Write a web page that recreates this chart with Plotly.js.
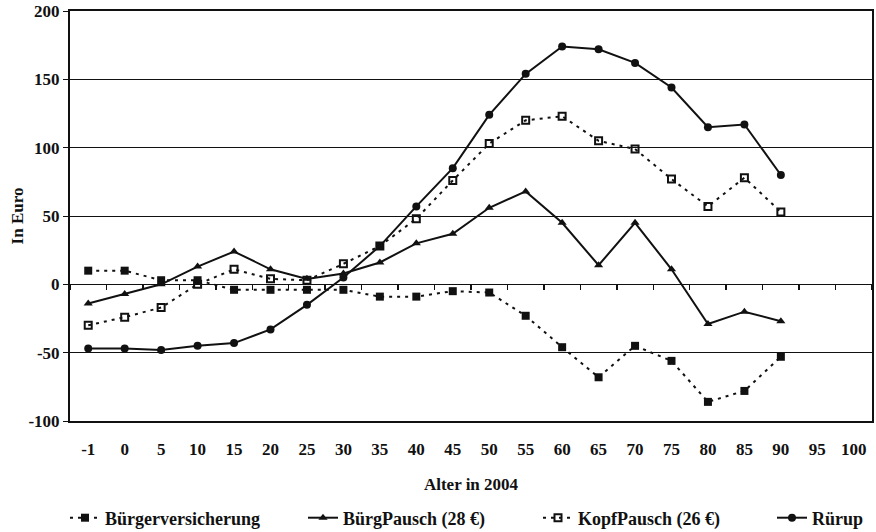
<!DOCTYPE html>
<html>
<head>
<meta charset="utf-8">
<script src="https://cdn.plot.ly/plotly-3.0.1.min.js"></script>
<style>html,body{margin:0;padding:0;background:#fff}#chart{width:876px;height:532px}</style>
</head>
<body>
<div id="chart"></div>
<script>
const categories = ['-1','0','5','10','15','20','25','30','35','40','45','50','55','60','65','70','75','80','85','90','95','100'];
const alterWithData = ['-1','0','5','10','15','20','25','30','35','40','45','50','55','60','65','70','75','80','85','90'];
const buergerversicherung = [10,10,3,3,-4,-4,-4,-4,-9,-9,-5,-6,-23,-46,-68,-45,-56,-86,-78,-53];
const buergPausch = [-14,-7,0,13,24,11,4,8,16,30,37,56,68,45,14,45,11,-29,-20,-27];
const kopfPausch = [-30,-24,-17,0,11,4,3,15,28,48,76,103,120,123,105,99,77,57,78,53];
const ruerup = [-47,-47,-48,-45,-43,-33,-15,5,28,57,85,124,154,174,172,162,144,115,117,80];
const yTicks = [-100,-50,0,50,100,150,200];

const serif = 'Liberation Serif';
const ink = '#111';

const traces = [
  {name:'Bürgerversicherung', x:alterWithData, y:buergerversicherung, mode:'lines+markers', type:'scatter',
   line:{color:ink, width:2, dash:'3px,5px'}, marker:{symbol:'square', size:8, color:ink}, legend:'legend'},
  {name:'BürgPausch (28 €)', x:alterWithData, y:buergPausch, mode:'lines+markers', type:'scatter',
   line:{color:ink, width:2}, marker:{symbol:'triangle-up', size:8, color:ink}, legend:'legend2'},
  {name:'KopfPausch (26 €)', x:alterWithData, y:kopfPausch, mode:'lines+markers', type:'scatter',
   line:{color:ink, width:2, dash:'3px,5px'}, marker:{symbol:'square-open', size:7, color:ink, line:{width:2, color:ink}}, legend:'legend3'},
  {name:'Rürup', x:alterWithData, y:ruerup, xaxis:'x2', mode:'lines+markers', type:'scatter',
   line:{color:ink, width:2}, marker:{symbol:'circle', size:8, color:ink}, legend:'legend4'}
];

const legendFont = {family:serif, size:18, weight:'bold', color:ink};
function leg(px){
  return {x:(px-70)/802, xref:'paper', y:(421-518)/410, yref:'paper', yanchor:'middle', xanchor:'left',
          orientation:'h', font:legendFont, bgcolor:'rgba(0,0,0,0)', borderwidth:0};
}

const layout = {
  width:876, height:532,
  margin:{l:70, r:4, t:11, b:111, autoexpand:false},
  paper_bgcolor:'#fff', plot_bgcolor:'#fff',
  font:{family:serif, color:ink},
  xaxis:{
    type:'category', categoryorder:'array', categoryarray:categories,
    tickvals:categories, ticktext:categories, tickangle:0,
    range:[-0.5, 21.5], showgrid:false, zeroline:false,
    showline:true, mirror:true, linecolor:ink, linewidth:2,
    ticks:'', ticklabelstandoff:12,
    tickfont:{family:serif, size:17, weight:'bold', color:ink},
    title:{text:'Alter in 2004', font:{family:serif, size:17, weight:'bold', color:ink}, standoff:20}
  },
  xaxis2:{
    overlaying:'x', anchor:'free', position:1/3, side:'bottom',
    type:'category', categoryorder:'array', categoryarray:categories,
    range:[-0.5, 21.5], tickson:'boundaries',
    ticks:'outside', ticklen:5, tickwidth:1.5, tickcolor:ink,
    showticklabels:false, showgrid:false, zeroline:false, showline:false
  },
  yaxis:{
    range:[-100, 200], tickvals:yTicks, ticktext:yTicks.map(String),
    showgrid:true, gridcolor:ink, gridwidth:1,
    zeroline:true, zerolinecolor:ink, zerolinewidth:1.5,
    showline:true, mirror:true, linecolor:ink, linewidth:2,
    ticks:'outside', ticklen:5, tickcolor:ink, tickwidth:1,
    tickfont:{family:serif, size:17, weight:'bold', color:ink},
    title:{text:'In Euro', font:{family:serif, size:17, weight:'bold', color:ink}, standoff:0}
  },
  showlegend:true,
  legend:leg(65), legend2:leg(303), legend3:leg(538), legend4:leg(772)
};

Plotly.newPlot('chart', traces, layout, {displayModeBar:false, staticPlot:true});
</script>
</body>
</html>
